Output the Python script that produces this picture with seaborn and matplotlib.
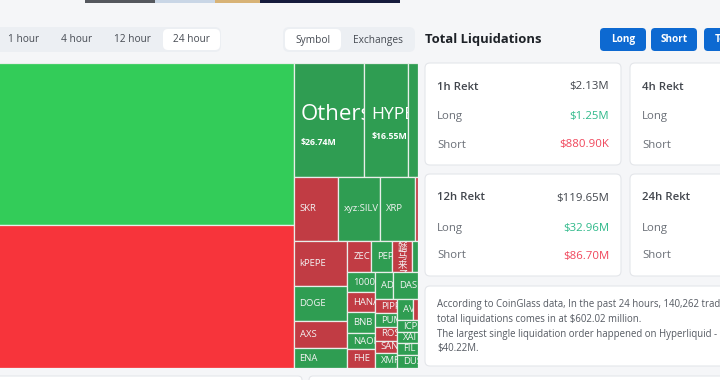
import numpy as np
import matplotlib
matplotlib.use("Agg")
import matplotlib.pyplot as plt
import seaborn as sns
from matplotlib.patches import Rectangle, FancyBboxPatch

# ---- data (24h liquidations by symbol, $M) ----
SYMBOLS = ["BTC", "ETH",
           "Others", "HYPE", "SOL",
           "SKR", "xyz:SILV", "XRP", "LTC",
           "kPEPE", "DOGE", "AXS", "ENA",
           "ZEC", "PEPE", "我踏马来了", "SUI",
           "1000BONK", "HANA", "BNB", "NAORIS", "FHE",
           "ADA", "DASH",
           "PIPPIN", "PUMP", "ROSE", "SAND", "XMR",
           "AVAX", "LINK", "ICP", "XAI", "FIL", "DUSK"]
LIQ_USD_M = [252.5, 223.0,
             26.74, 16.55, 3.8,
             9.6, 9.0, 7.5, 0.6,
             8.0, 6.3, 5.0, 3.5,
             2.45, 2.24, 2.1, 0.64,
             1.8, 1.8, 1.9, 1.5, 1.7,
             1.65, 2.17,
             1.07, 1.07, 0.99, 0.92, 1.15,
             1.12, 0.35, 0.84, 0.7, 0.84, 0.91]
SIDES = ["up", "down",
         "up", "up", "up",
         "down", "up", "up", "down",
         "down", "up", "down", "up",
         "down", "up", "down", "up",
         "up", "down", "up", "up", "down",
         "up", "up",
         "down", "up", "down", "down", "up",
         "up", "down", "up", "up", "up", "up"]

TIME_TABS = ["1 hour", "4 hour", "12 hour", "24 hour"]
VIEW_TABS = ["Symbol", "Exchanges"]
SIDE_BUTTONS = ["Long", "Short", "Total"]

CARD_TITLES = ["1h Rekt", "4h Rekt", "12h Rekt", "24h Rekt"]
CARD_TOTAL = ["$2.13M", "", "$119.65M", ""]
CARD_LONG = ["$1.25M", "", "$32.96M", ""]
CARD_SHORT = ["$880.90K", "", "$86.70M", ""]

INFO_LINES = [
    "According to CoinGlass data, In the past 24 hours, 140,262 traders were liquidated , the",
    "total liquidations comes in at $602.02 million.",
    "The largest single liquidation order happened on Hyperliquid - ETH-USD value",
    "$40.22M.",
]

# treemap nesting: 'h' = side by side, 'v' = stacked
LAYOUT = ("h", [
    ("v", ["BTC", "ETH"]),
    ("v", [
        ("h", ["Others", "HYPE", "SOL"]),
        ("h", ["SKR", "xyz:SILV", "XRP", "LTC"]),
        ("h", [
            ("v", ["kPEPE", "DOGE", "AXS", "ENA"]),
            ("v", [
                ("h", ["ZEC", "PEPE", "我踏马来了", "SUI"]),
                ("h", [
                    ("v", ["1000BONK", "HANA", "BNB", "NAORIS", "FHE"]),
                    ("v", [
                        ("h", ["ADA", "DASH"]),
                        ("h", [
                            ("v", ["PIPPIN", "PUMP", "ROSE", "SAND", "XMR"]),
                            ("v", [("h", ["AVAX", "LINK"]), "ICP", "XAI", "FIL", "DUSK"]),
                        ]),
                    ]),
                ]),
            ]),
        ]),
    ]),
])

BG = "#f5f6f8"
GREEN_BIG, RED_BIG = "#33cc59", "#f7343b"
GREEN, RED = "#2f9d52", "#c13c44"
TEXT_GRAY = "#6a6f77"
VAL_GREEN = "#2fb98a"
VAL_RED = "#f0455a"
BLUE = "#0d69d1"

sns.set_theme(style="white")
plt.rcParams["font.family"] = ["Open Sans", "Noto Sans CJK SC", "DejaVu Sans"]

value_of = dict(zip(SYMBOLS, LIQ_USD_M))
side_of = dict(zip(SYMBOLS, SIDES))


def node_sum(node):
    if isinstance(node, str):
        return value_of[node]
    return sum(node_sum(k) for k in node[1])


def layout(node, x, y, w, h, out):
    if isinstance(node, str):
        out[node] = (x, y, w, h)
        return
    direction, kids = node
    total = node_sum(node)
    pos = x if direction == "h" else y
    for k in kids:
        share = node_sum(k) / total
        if direction == "h":
            layout(k, pos, y, w * share, h, out)
            pos += w * share
        else:
            layout(k, x, pos, w, h * share, out)
            pos += h * share


def box(ax, x, y, w, h, fc, ec="none", r=5, lw=0.8):
    ax.add_patch(FancyBboxPatch((x, y), w, h, boxstyle=f"round,pad=0,rounding_size={r}",
                                fc=fc, ec=ec, lw=lw))


fig = plt.figure(figsize=(7.2, 3.8), dpi=100, facecolor=BG)

# ---- page chrome in pixel coordinates ----
ui = fig.add_axes([0, 0, 1, 1], zorder=0)
ui.set_xlim(0, 720)
ui.set_ylim(380, 0)
ui.axis("off")

# banner image edge at the top
ui.add_patch(Rectangle((85, -5), 70, 8, fc="#55585e", ec="none"))
ui.add_patch(Rectangle((155, -5), 60, 8, fc="#c9d6e6", ec="none"))
ui.add_patch(Rectangle((215, -5), 45, 8, fc="#d8b377", ec="none"))
ui.add_patch(Rectangle((260, -5), 140, 8, fc="#161b3d", ec="none"))

# time tabs
box(ui, -12, 27, 233, 25, "#eceff3", r=6)
box(ui, 163, 29, 57, 21, "white", r=5)
for t, tx in zip(TIME_TABS, [24, 77, 132, 191]):
    ui.text(tx, 40, t, ha="center", va="center", fontsize=7.3, color="#464b53")

box(ui, 283, 27, 132, 25, "#eceff3", r=6)
box(ui, 285, 29, 56, 21, "white", r=5)
for t, tx in zip(VIEW_TABS, [313, 378]):
    ui.text(tx, 40, t, ha="center", va="center", fontsize=7.3, color="#464b53")

# header and buttons
ui.text(425, 40, "Total Liquidations", ha="left", va="center", fontsize=9.4,
        fontweight="bold", color="#1e2228")
for t, bx in zip(SIDE_BUTTONS, [600, 651, 704]):
    box(ui, bx, 28, 46, 23, BLUE, r=4)
    ui.text(bx + 23, 39.5, t, ha="center", va="center", fontsize=7.2,
            fontweight="bold", color="white")

# rekt cards
card_pos = [(425, 63), (630, 63), (425, 174), (630, 174)]
for i, (cx, cy) in enumerate(card_pos):
    box(ui, cx, cy, 196, 102, "white", ec="#e4e6ea", r=5)
    ui.text(cx + 12, cy + 24, CARD_TITLES[i], ha="left", va="center", fontsize=8.2,
            fontweight="semibold", color="#42464d")
    ui.text(cx + 12, cy + 54, "Long", ha="left", va="center", fontsize=8.2, color=TEXT_GRAY)
    ui.text(cx + 12, cy + 82, "Short", ha="left", va="center", fontsize=8.2, color=TEXT_GRAY)
    ui.text(cx + 184, cy + 24, CARD_TOTAL[i], ha="right", va="center", fontsize=8.2,
            color="#42464d")
    ui.text(cx + 184, cy + 54, CARD_LONG[i], ha="right", va="center", fontsize=8.2,
            color=VAL_GREEN)
    ui.text(cx + 184, cy + 82, CARD_SHORT[i], ha="right", va="center", fontsize=8.2,
            color=VAL_RED)

# info card
box(ui, 425, 286, 310, 80, "white", ec="#e4e6ea", r=5)
for j, line in enumerate(INFO_LINES):
    ui.text(437, 305 + j * 14.5, line, ha="left", va="center", fontsize=6.9, color="#555a62")

# bottom cards
box(ui, -10, 376, 312, 20, "white", ec="#e4e6ea", r=4)
box(ui, 309, 376, 420, 20, "white", ec="#e4e6ea", r=4)

# ---- treemap ----
H = 305.0
AREA_PER_M = 300.0
W = sum(LIQ_USD_M) * AREA_PER_M / H
rects = {}
layout(LAYOUT, 0, 0, W, H, rects)

tm = fig.add_axes([0, 12 / 380, 418 / 720, H / 380], zorder=2)
tm.set_xlim(W - 418, W)
tm.set_ylim(H, 0)
tm.axis("off")

for sym in SYMBOLS:
    x, y, w, h = rects[sym]
    v = value_of[sym]
    if v > 100:
        fc = GREEN_BIG if side_of[sym] == "up" else RED_BIG
    else:
        fc = GREEN if side_of[sym] == "up" else RED
    rect = Rectangle((x, y), w, h, fc=fc, ec="#e9eeea", lw=0.9)
    tm.add_patch(rect)
    if w < 12 or h < 9:
        continue
    cy = y + h / 2
    if v >= 15:
        fs = np.sqrt(w * h) / 5.6
        t1 = tm.text(x + 7, cy - 5, sym, ha="left", va="center", fontsize=fs,
                     color="white", clip_on=True)
        t2 = tm.text(x + 7, cy - 4 + 1.2 * fs / 0.72, f"${v:.2f}M", ha="left", va="center",
                     fontsize=6.3, fontweight="bold", color="white", clip_on=True)
        for t in (t1, t2):
            t.set_clip_path(rect)
    else:
        label = "\n".join(sym) if ord(sym[0]) > 0x2E80 else sym
        t = tm.text(x + 6, cy, label, ha="left", va="center", fontsize=6.8,
                    color="#f3f3f3", linespacing=0.95, clip_on=True)
        t.set_clip_path(rect)

fig.savefig("out.png", dpi=100, facecolor=BG)
